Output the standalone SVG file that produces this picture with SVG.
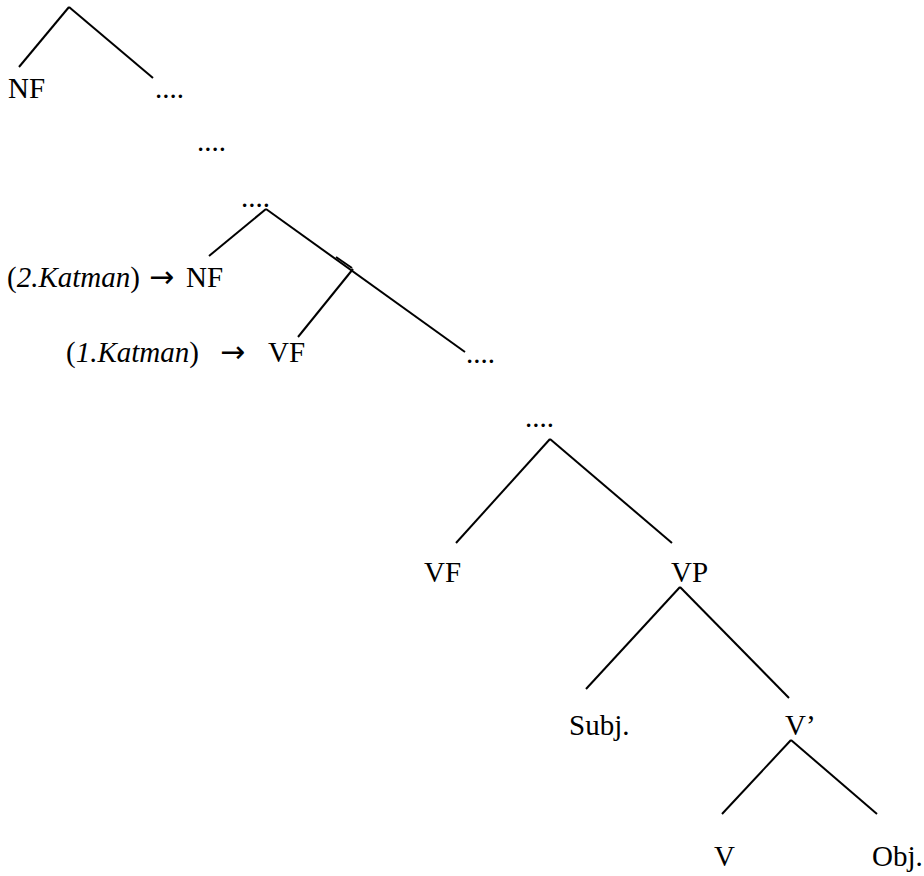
<svg xmlns="http://www.w3.org/2000/svg" width="924" height="876" viewBox="0 0 924 876">
<style>
text { font-family: "Liberation Serif", "Times New Roman", serif; font-size: 29px; fill: #000; }
.it { font-style: italic; }
.ar { font-family: "DejaVu Sans", "Liberation Serif", sans-serif; font-size: 30px; }
#connectors line { stroke: #000; stroke-width: 2; stroke-linecap: butt; }
</style>
<rect width="924" height="876" fill="#fff"/>
<g id="connectors">
<line x1="69" y1="7" x2="19" y2="67"/>
<line x1="69" y1="7" x2="153" y2="78"/>
<line x1="266" y1="209" x2="209" y2="256"/>
<line x1="266" y1="209" x2="465" y2="352"/>
<line x1="336" y1="257" x2="352" y2="268"/>
<line x1="353" y1="269" x2="298" y2="337"/>
<line x1="550" y1="439" x2="456" y2="543"/>
<line x1="550" y1="439" x2="672" y2="543"/>
<line x1="680" y1="587" x2="586" y2="689"/>
<line x1="680" y1="587" x2="789" y2="698"/>
<line x1="791" y1="740" x2="722" y2="814"/>
<line x1="791" y1="740" x2="877" y2="814"/>
</g>
<g id="node-nf-top"><text x="8" y="98">NF</text></g>
<g id="node-dots-1"><text x="155" y="98">....</text></g>
<g id="node-dots-2"><text x="197" y="151">....</text></g>
<g id="node-dots-3"><text x="241" y="207">....</text></g>
<g id="node-nf-2katman"><text x="7" y="287">(<tspan class="it">2.Katman</tspan>)<tspan class="ar" x="149">→</tspan><tspan x="186">NF</tspan></text></g>
<g id="node-vf-1katman"><text x="66" y="362">(<tspan class="it">1.Katman</tspan>)<tspan class="ar" x="220">→</tspan><tspan x="268">VF</tspan></text></g>
<g id="node-dots-4"><text x="466" y="363">....</text></g>
<g id="node-dots-5"><text x="525" y="427">....</text></g>
<g id="node-vf"><text x="424" y="582">VF</text></g>
<g id="node-vp"><text x="671" y="582">VP</text></g>
<g id="node-subj"><text x="569" y="735">Subj.</text></g>
<g id="node-vbar"><text x="785" y="735">V’</text></g>
<g id="node-v"><text x="714" y="866">V</text></g>
<g id="node-obj"><text x="872" y="866">Obj.</text></g>
</svg>
